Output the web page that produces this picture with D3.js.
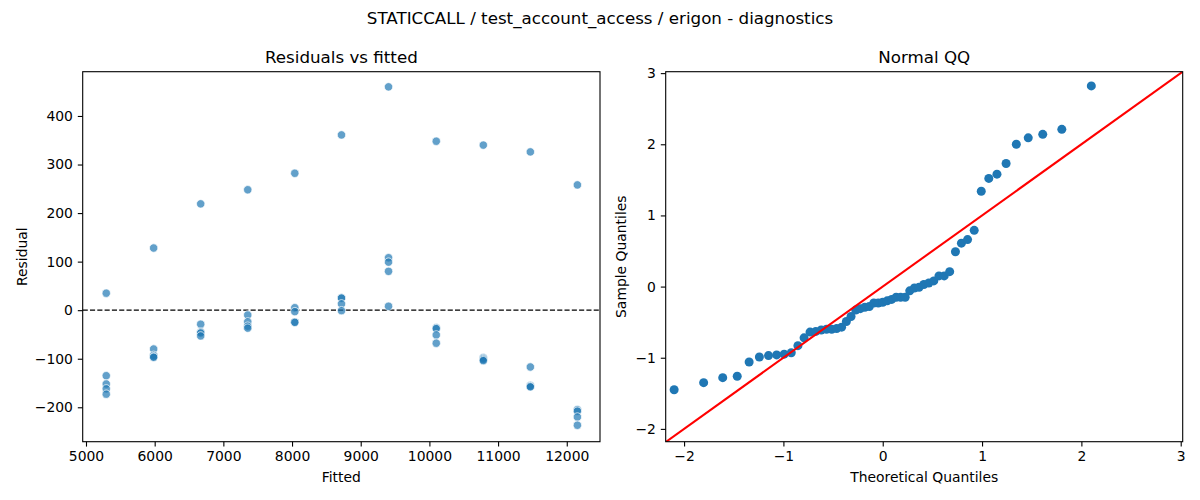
<!DOCTYPE html>
<html lang="en">
<head>
  <meta charset="UTF-8"/>
  <title>STATICCALL / test_account_access / erigon - diagnostics</title>
  <script src="https://d3js.org/d3.v7.min.js"></script>
  <style>
    body { margin: 0; background: #fff; }
    svg text { font-family: "DejaVu Sans", sans-serif; fill: #000; }
    .tick text { font-size: 13.9px; }
    .tick line { stroke: #000; stroke-width: 1.1; }
  </style>
</head>
<body>
<script>

// fitted value of each column of residuals
var fittedLevels = [5295, 5985, 6670, 7355, 8040, 8720, 9405, 10100, 10785, 11470, 12155];

// residuals read at each fitted level (5 runs each)
var residualsByLevel = [
  [35, -135, -152, -162, -173],
  [128, -80, -93, -96, -97],
  [219, -29, -45, -47, -53],
  [248, -10, -24, -33, -37],
  [282, 5, -3, -25, -25],
  [361, 25, 25, 13, -1],
  [460, 108, 99, 80, 8],
  [348, -36, -38, -51, -68],
  [340, -98, -100, -102, -104],
  [326, -117, -155, -157, -158],
  [258, -205, -208, -220, -237]
];

// normal QQ: theoretical quantiles and sorted standardized residuals
var qqTheoretical = [-2.100, -1.803, -1.611, -1.465, -1.345, -1.242, -1.150, -1.068, -0.992, -0.921,
  -0.854, -0.792, -0.732, -0.674, -0.619, -0.566, -0.514, -0.464, -0.414, -0.366,
  -0.319, -0.272, -0.226, -0.180, -0.135, -0.090, -0.045, 0,
  0.045, 0.090, 0.135, 0.180, 0.226, 0.272, 0.319, 0.366, 0.414, 0.464,
  0.514, 0.566, 0.619, 0.674, 0.732, 0.792, 0.854, 0.921, 0.992, 1.068,
  1.150, 1.242, 1.345, 1.465, 1.611, 1.803, 2.100];
var qqSample = [-1.45, -1.35, -1.28, -1.26, -1.06, -0.99, -0.97, -0.96, -0.95, -0.93,
  -0.83, -0.72, -0.64, -0.63, -0.61, -0.60, -0.60, -0.59, -0.57, -0.49,
  -0.42, -0.33, -0.31, -0.29, -0.28, -0.23, -0.23, -0.22,
  -0.20, -0.18, -0.15, -0.15, -0.15, -0.06, -0.02, -0.01, 0.03, 0.05,
  0.08, 0.15, 0.15, 0.21, 0.49, 0.61, 0.66, 0.79, 1.34, 1.52,
  1.58, 1.73, 2.00, 2.09, 2.14, 2.21, 2.82];

var fittedTicks = [5000, 6000, 7000, 8000, 9000, 10000, 11000, 12000];
var residualTicks = [-200, -100, 0, 100, 200, 300, 400];
var qqTicks = [-2, -1, 0, 1, 2, 3];

var w = 1200, h = 500;
var plotTop = 71.7, plotBottom = 441.7;
var left1 = 82.7, right1 = 600;
var left2 = 665.7, right2 = 1182.7;
var blue = "#1f77b4";

var svg = d3.select("body").append("svg")
  .attr("width", w)
  .attr("height", h);

svg.append("text")
  .attr("x", 600).attr("y", 24)
  .attr("text-anchor", "middle")
  .style("font-size", "16.7px")
  .text("STATICCALL / test_account_access / erigon - diagnostics");

// ---------- residuals vs fitted ----------
var xScale = d3.scaleLinear().domain([4952, 12484]).range([left1, right1]);
var yScale = d3.scaleLinear().domain([-270.9, 491.2]).range([plotBottom, plotTop]);

var points = [];
fittedLevels.forEach(function(f, i) {
  residualsByLevel[i].forEach(function(r) {
    points.push({ fitted: f, resid: r });
  });
});

svg.append("line")
  .attr("x1", left1).attr("x2", right1)
  .attr("y1", yScale(0)).attr("y2", yScale(0))
  .attr("stroke", "#000")
  .attr("stroke-width", 1.39)
  .attr("stroke-dasharray", "5.1,2.2");

svg.append("g").selectAll("circle")
  .data(points)
  .enter()
  .append("circle")
  .attr("cx", function(d) { return xScale(d.fitted); })
  .attr("cy", function(d) { return yScale(d.resid); })
  .attr("r", 4.2)
  .attr("fill", blue)
  .attr("fill-opacity", 0.7)
  .attr("stroke", "#fff")
  .attr("stroke-opacity", 0.7)
  .attr("stroke-width", 1);

svg.append("g")
  .attr("transform", "translate(0," + plotBottom + ")")
  .call(d3.axisBottom(xScale).tickValues(fittedTicks).tickFormat(d3.format("d"))
    .tickSize(4.9).tickPadding(4.9))
  .call(function(g) { g.select(".domain").remove(); });

svg.append("g")
  .attr("transform", "translate(" + left1 + ",0)")
  .call(d3.axisLeft(yScale).tickValues(residualTicks).tickSize(4.9).tickPadding(4.9))
  .call(function(g) { g.select(".domain").remove(); });

svg.append("rect")
  .attr("x", left1).attr("y", plotTop)
  .attr("width", right1 - left1).attr("height", plotBottom - plotTop)
  .attr("fill", "none").attr("stroke", "#000").attr("stroke-width", 1.1);

svg.append("text")
  .attr("x", (left1 + right1) / 2).attr("y", 63)
  .attr("text-anchor", "middle")
  .style("font-size", "16.7px")
  .text("Residuals vs fitted");

svg.append("text")
  .attr("x", (left1 + right1) / 2).attr("y", 482)
  .attr("text-anchor", "middle")
  .style("font-size", "13.9px")
  .text("Fitted");

svg.append("text")
  .attr("transform", "translate(27," + (plotTop + plotBottom) / 2 + ") rotate(-90)")
  .attr("text-anchor", "middle")
  .style("font-size", "13.9px")
  .text("Residual");

// ---------- normal QQ ----------
var qx = d3.scaleLinear().domain([-2.185, 3.02]).range([left2, right2]);
var qy = d3.scaleLinear().domain([-2.18, 3.02]).range([plotBottom, plotTop]);

svg.append("clipPath").attr("id", "qqclip")
  .append("rect")
  .attr("x", left2).attr("y", plotTop)
  .attr("width", right2 - left2).attr("height", plotBottom - plotTop);

svg.append("g").selectAll("circle")
  .data(qqSample)
  .enter()
  .append("circle")
  .attr("cx", function(d, i) { return qx(qqTheoretical[i]); })
  .attr("cy", function(d) { return qy(d); })
  .attr("r", 4.5)
  .attr("fill", blue);

svg.append("line")
  .attr("clip-path", "url(#qqclip)")
  .attr("x1", qx(-2.185)).attr("y1", qy(-2.185))
  .attr("x2", qx(3.02)).attr("y2", qy(3.02))
  .attr("stroke", "red")
  .attr("stroke-width", 2.08);

svg.append("g")
  .attr("transform", "translate(0," + plotBottom + ")")
  .call(d3.axisBottom(qx).tickValues(qqTicks).tickFormat(d3.format("d"))
    .tickSize(4.9).tickPadding(4.9))
  .call(function(g) { g.select(".domain").remove(); });

svg.append("g")
  .attr("transform", "translate(" + left2 + ",0)")
  .call(d3.axisLeft(qy).tickValues(qqTicks).tickFormat(d3.format("d"))
    .tickSize(4.9).tickPadding(4.9))
  .call(function(g) { g.select(".domain").remove(); });

svg.append("rect")
  .attr("x", left2).attr("y", plotTop)
  .attr("width", right2 - left2).attr("height", plotBottom - plotTop)
  .attr("fill", "none").attr("stroke", "#000").attr("stroke-width", 1.1);

svg.append("text")
  .attr("x", (left2 + right2) / 2).attr("y", 63)
  .attr("text-anchor", "middle")
  .style("font-size", "16.7px")
  .text("Normal QQ");

svg.append("text")
  .attr("x", (left2 + right2) / 2).attr("y", 482)
  .attr("text-anchor", "middle")
  .style("font-size", "13.9px")
  .text("Theoretical Quantiles");

svg.append("text")
  .attr("transform", "translate(626," + (plotTop + plotBottom) / 2 + ") rotate(-90)")
  .attr("text-anchor", "middle")
  .style("font-size", "13.9px")
  .text("Sample Quantiles");

</script>
</body>
</html>
